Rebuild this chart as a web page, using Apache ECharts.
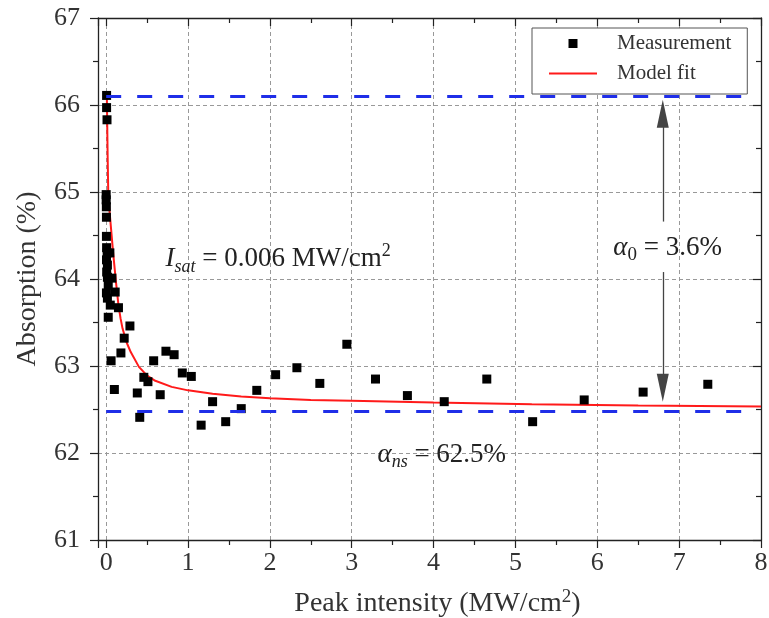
<!DOCTYPE html>
<html>
<head>
<meta charset="utf-8">
<script src="https://cdn.jsdelivr.net/npm/echarts@6/dist/echarts.min.js"></script>
<style>
  html, body { margin: 0; padding: 0; background: #fff; }
  #chart { width: 769px; height: 618px; }
</style>
</head>
<body>
<div id="chart"></div>
<script>
const measX = [0.005, 0.005, 0.01, 0.0, 0.0, 0.002, 0.003, 0.003, 0.005, 0.012, 0.045, 0.004, 0.015,
  0.006, 0.015, 0.07, 0.025, 0.11, 0.003, 0.015, 0.05, 0.15, 0.025,
  0.29, 0.22, 0.18, 0.06, 0.10, 0.38, 0.46, 0.51, 0.41, 0.66,
  0.58, 0.73, 0.83, 0.93, 1.04, 1.30, 1.16, 1.46, 1.65, 1.84,
  2.07, 2.33, 2.61, 2.94, 3.29, 3.68, 4.13, 4.65, 5.21, 5.84,
  6.56, 7.35];
const measY = [66.11, 65.97, 65.83, 64.97, 64.91, 64.83, 64.71, 64.49, 64.36, 64.30, 64.30, 64.22, 64.16,
  64.08, 64.02, 64.01, 63.93, 63.85, 63.84, 63.78, 63.70, 63.67, 63.56,
  63.46, 63.32, 63.15, 63.06, 62.73, 62.69, 62.87, 62.82, 62.41, 62.67,
  63.06, 63.17, 63.13, 62.92, 62.88, 62.59, 62.32, 62.36, 62.51, 62.72,
  62.90, 62.98, 62.80, 63.25, 62.85, 62.66, 62.59, 62.85, 62.36, 62.61,
  62.70, 62.79];

// model fit curve
const fitX = [0.008, 0.018, 0.026, 0.05, 0.085, 0.12, 0.15, 0.175, 0.2, 0.25, 0.3, 0.4, 0.5, 0.6,
  0.8, 1.0, 1.3, 1.65, 2.0, 2.5, 3.0, 4.0, 5.2, 6.5, 8.0];
const fitY = [66.1, 65.4, 64.95, 64.68, 64.30, 63.96, 63.70, 63.55, 63.43, 63.27, 63.16, 62.99, 62.89, 62.83,
  62.76, 62.72, 62.68, 62.65, 62.63, 62.61, 62.60, 62.58, 62.56, 62.545, 62.535];

// guide levels and annotation anchors (data units)
const levels = [66.1, 62.48];
const levelSpan = [0, 7.8];
const arrowX = 6.8;
const arrowUp = [64.66, 65.9];
const arrowDown = [64.08, 62.75];
const noteX = [2.1, 4.1, 6.86];
const noteY = [64.23, 61.98, 64.36];
const noteText = [
  "{it|I}{sub|sat}{nrm| = 0.006 MW/cm}{sup|2}",
  "{it|α}{sub|ns}{nrm| = 62.5%}",
  "{it|α}{subUp|0}{nrm| = 3.6%}",
];

const serif = "Liberation Serif";
const ink = "#333";
const noteInk = "#222";

const chart = echarts.init(document.getElementById("chart"));

const rich = {
  it: { fontFamily: serif, fontSize: 27, fontStyle: "italic", color: noteInk, lineHeight: 34 },
  nrm: { fontFamily: serif, fontSize: 27, color: noteInk, lineHeight: 34 },
  sub: { fontFamily: serif, fontSize: 18, fontStyle: "italic", color: noteInk, lineHeight: 20, verticalAlign: "bottom" },
  subUp: { fontFamily: serif, fontSize: 19, color: noteInk, lineHeight: 20, verticalAlign: "bottom" },
  sup: { fontFamily: serif, fontSize: 18, color: noteInk, lineHeight: 18, verticalAlign: "top" },
};

const levelLines = levels.map((v) => [
  { coord: [levelSpan[0], v], symbol: "none", lineStyle: { color: "#1f2ee8", width: 3, type: [15, 16] } },
  { coord: [levelSpan[1], v], symbol: "none" },
]);
const arrowLines = [arrowUp, arrowDown].map((a) => [
  { coord: [arrowX, a[0]], symbol: "none", lineStyle: { color: "#444", width: 1.3, type: "solid" } },
  { coord: [arrowX, a[1]], symbol: "triangle", symbolSize: [12, 28] },
]);

chart.setOption({
  animation: false,
  backgroundColor: "#fff",
  grid: { left: 98, right: 8, top: 18, bottom: 78, outerBoundsMode: "none", containLabel: false },
  legend: {
    orient: "vertical",
    left: 532,
    top: 28,
    padding: [5, 16, 10, 17],
    itemGap: 9,
    itemWidth: 48,
    itemHeight: 9,
    symbolKeepAspect: true,
    backgroundColor: "#fff",
    borderColor: "#555",
    borderWidth: 1,
    textStyle: { fontFamily: serif, fontSize: 21, color: ink, lineHeight: 20, padding: [0, 0, 0, 15] },
    data: [
      { name: "Measurement", icon: "path://M0,0h10v10h-10z" },
      { name: "Model fit", icon: "path://M0,0h48v2h-48z" },
    ],
  },
  xAxis: [
    {
      type: "value",
      min: -0.1,
      max: 8,
      minInterval: 1,
      maxInterval: 1,
      name: "Peak intensity (MW/cm{sup|2})",
      nameLocation: "middle",
      nameGap: 48,
      nameTextStyle: {
        fontFamily: serif, fontSize: 28, color: ink, lineHeight: 32, padding: [0, 0, 0, 16],
        rich: { sup: { fontFamily: serif, fontSize: 19, color: ink, lineHeight: 19, verticalAlign: "top" } },
      },
      axisLine: { onZero: false, lineStyle: { color: "#222", width: 1.3 } },
      axisTick: { inside: false, length: 8, lineStyle: { color: "#222", width: 1.2 } },
      minorTick: { show: true, splitNumber: 2, length: 5, lineStyle: { color: "#222", width: 1.2 } },
      axisLabel: { showMinLabel: false, margin: 10, fontFamily: serif, fontSize: 26, color: ink },
      splitLine: { show: true, lineStyle: { color: "#999", type: [4, 3], width: 1 } },
    },
    {
      type: "value",
      position: "top",
      min: -0.1,
      max: 8,
      minInterval: 1,
      maxInterval: 1,
      axisLine: { onZero: false, lineStyle: { color: "#222", width: 1.3 } },
      axisTick: { inside: true, length: 8, lineStyle: { color: "#222", width: 1.2 } },
      minorTick: { show: true, splitNumber: 2, length: 5, lineStyle: { color: "#222", width: 1.2 } },
      axisLabel: { show: false },
      splitLine: { show: false },
    },
  ],
  yAxis: [
    {
      type: "value",
      min: 61,
      max: 67,
      interval: 1,
      name: "Absorption (%)",
      nameLocation: "middle",
      nameGap: 56,
      nameTextStyle: { fontFamily: serif, fontSize: 28, color: ink },
      axisLine: { onZero: false, lineStyle: { color: "#222", width: 1.3 } },
      axisTick: { inside: false, length: 8, lineStyle: { color: "#222", width: 1.2 } },
      minorTick: { show: true, splitNumber: 2, length: 5, lineStyle: { color: "#222", width: 1.2 } },
      axisLabel: { margin: 18, fontFamily: serif, fontSize: 26, color: ink },
      splitLine: { show: true, lineStyle: { color: "#999", type: [4, 3], width: 1 } },
    },
    {
      type: "value",
      position: "right",
      min: 61,
      max: 67,
      interval: 1,
      axisLine: { show: true, onZero: false, lineStyle: { color: "#222", width: 1.3 } },
      axisTick: { show: true, inside: true, length: 8, lineStyle: { color: "#222", width: 1.2 } },
      minorTick: { show: true, splitNumber: 2, length: 5, lineStyle: { color: "#222", width: 1.2 } },
      axisLabel: { show: false },
      splitLine: { show: false },
    },
  ],
  series: [
    {
      name: "Model fit",
      type: "line",
      data: fitX.map((x, i) => [x, fitY[i]]),
      symbol: "none",
      smooth: false,
      itemStyle: { color: "#ff1a1a" },
      lineStyle: { color: "#ff1a1a", width: 2 },
      z: 3,
      markLine: {
        silent: true,
        symbol: "none",
        label: { show: false },
        data: levelLines.concat(arrowLines),
      },
    },
    {
      name: "Measurement",
      type: "scatter",
      data: measX.map((x, i) => [x, measY[i]]),
      symbol: "rect",
      symbolSize: 9,
      clip: false,
      itemStyle: { color: "#000", opacity: 1 },
      z: 4,
    },
    {
      name: "notes",
      type: "scatter",
      silent: true,
      data: noteX.map((x, i) => ({ value: [x, noteY[i]], text: noteText[i] })),
      symbol: "circle",
      symbolSize: 2,
      itemStyle: { color: "rgba(0,0,0,0)" },
      labelLayout: { hideOverlap: false },
      label: {
        show: true,
        position: "inside",
        color: noteInk,
        opacity: 1,
        formatter: (p) => p.data.text,
        rich,
      },
      z: 5,
    },
  ],
});
</script>
</body>
</html>
